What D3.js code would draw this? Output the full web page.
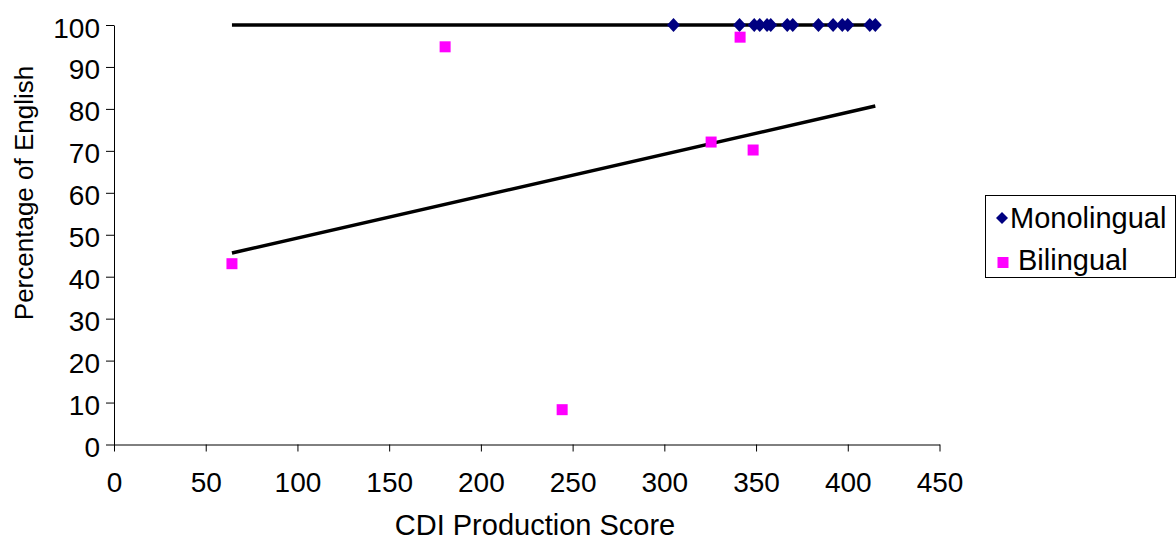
<!DOCTYPE html>
<html>
<head>
<meta charset="utf-8">
<script src="https://cdn.jsdelivr.net/npm/d3@7"></script>
<style>
html, body { margin: 0; padding: 0; background: #fff; }
svg { display: block; }
text { font-family: "Liberation Sans", Arial, sans-serif; fill: #000; }
</style>
</head>
<body>
<svg id="chart" width="1176" height="541"></svg>
<script>
// ---- data ----
const monoScores = [305, 341, 349, 352, 356, 358, 367, 370, 384, 392, 397, 400, 412, 415];
const monoPct    = [100, 100, 100, 100, 100, 100, 100, 100, 100, 100, 100, 100, 100, 100];
const biScores   = [64.3, 180.5, 244.3, 325.5, 341.3, 348.4];
const biPct      = [43.1, 94.8, 8.3, 72.1, 97.1, 70.2];
const seriesNames = ["Monolingual", "Bilingual"];
const xTicks = [0, 50, 100, 150, 200, 250, 300, 350, 400, 450];
const yTicks = [0, 10, 20, 30, 40, 50, 60, 70, 80, 90, 100];
const xTitle = "CDI Production Score";
const yTitle = "Percentage of English";

const svg = d3.select("#chart");
const TICK_FS = 28;

const x = d3.scaleLinear().domain([0, 450]).range([114, 939.5]);
const y = d3.scaleLinear().domain([0, 100]).range([444.5, 25]);

// axes
const xAxis = svg.append("g").attr("transform", `translate(0,${y(0)})`)
  .call(d3.axisBottom(x).tickValues(xTicks).tickSize(7).tickSizeOuter(0).tickPadding(21));
const yAxis = svg.append("g").attr("transform", `translate(${x(0)},0)`)
  .call(d3.axisLeft(y).tickValues(yTicks).tickSize(8).tickSizeOuter(0).tickPadding(6));
[xAxis, yAxis].forEach(g => {
  g.selectAll("path.domain").attr("stroke", "#000").attr("stroke-width", 1);
  g.selectAll(".tick line").attr("stroke", "#000").attr("stroke-width", 1);
  g.selectAll("text").attr("font-size", TICK_FS).attr("font-family", "Liberation Sans, Arial, sans-serif").attr("fill", "#000");
});
yAxis.selectAll("text").attr("dy", "12px");

// axis titles
svg.append("text").attr("x", 535).attr("y", 535)
  .attr("text-anchor", "middle").attr("font-size", 29).text(xTitle);
svg.append("text").attr("transform", `translate(33,193) rotate(-90)`)
  .attr("text-anchor", "middle").attr("font-size", 26).text(yTitle);

// trendlines (least squares) over full x extent
const allX = monoScores.concat(biScores);
const [x0, x1] = d3.extent(allX);
function fit(xs, ys) {
  const mx = d3.mean(xs), my = d3.mean(ys);
  let sxy = 0, sxx = 0;
  xs.forEach((v, i) => { sxy += (v - mx) * (ys[i] - my); sxx += (v - mx) * (v - mx); });
  const b = sxx ? sxy / sxx : 0;
  return v => my + b * (v - mx);
}
const fMono = fit(monoScores, monoPct);
const fBi = fit(biScores, biPct);
[fMono, fBi].forEach(f => {
  svg.append("line")
    .attr("x1", x(x0)).attr("y1", y(f(x0)))
    .attr("x2", x(x1)).attr("y2", y(f(x1)))
    .attr("stroke", "#000").attr("stroke-width", 3.5);
});

// markers
const diamond = "M0,-7L6.5,0L0,7L-6.5,0Z";
svg.append("g").selectAll("path").data(monoScores).join("path")
  .attr("d", diamond)
  .attr("transform", (d, i) => `translate(${x(d)},${y(monoPct[i])})`)
  .attr("fill", "#000080");
svg.append("g").selectAll("rect").data(biScores).join("rect")
  .attr("x", d => x(d) - 5.5).attr("y", (d, i) => y(biPct[i]) - 5.5)
  .attr("width", 11).attr("height", 11).attr("fill", "#FF00FF");

// legend
const lg = svg.append("g");
lg.append("rect").attr("x", 985.5).attr("y", 195.5).attr("width", 190).attr("height", 82)
  .attr("fill", "#fff").attr("stroke", "#000").attr("stroke-width", 1);
lg.append("path").attr("d", "M0,-6L6,0L0,6L-6,0Z").attr("transform", "translate(1002,218)").attr("fill", "#000080");
lg.append("rect").attr("x", 997.5).attr("y", 257).attr("width", 11).attr("height", 11).attr("fill", "#FF00FF");
lg.append("text").attr("x", 1010).attr("y", 228).attr("font-size", 29).text(seriesNames[0]);
lg.append("text").attr("x", 1018).attr("y", 270).attr("font-size", 29).text(seriesNames[1]);
</script>
</body>
</html>
